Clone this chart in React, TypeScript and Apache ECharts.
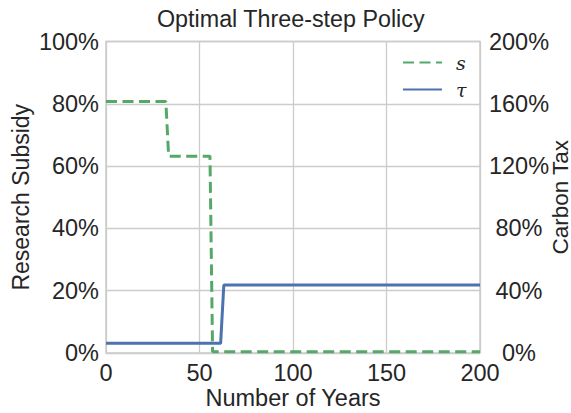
import React, { useEffect, useRef } from "react";
import * as echarts from "echarts";

const subsidyPoints: [number, number][] = [
  [0, 80.7], [32, 80.7], [33.5, 63.2], [55.6, 63.2], [57, 0.4], [200, 0.4],
];
const taxPoints: [number, number][] = [
  [0, 6.2], [61.3, 6.2], [63, 43.6], [200, 43.6],
];
const leftTicks = { min: 0, max: 100, interval: 20 };
const rightTicks = { min: 0, max: 200, interval: 40 };
const xTicks = { min: 0, max: 200, interval: 50 };

const FONT = "Liberation Sans, Arial, sans-serif";
const TXT = "#262626";

export default function App() {
  const ref = useRef<HTMLDivElement>(null);
  useEffect(() => {
    const chart = echarts.init(ref.current!, undefined, { renderer: "svg" });
    chart.setOption({
      animation: false,
      backgroundColor: "#ffffff",
      title: {
        text: "Optimal Three-step Policy",
        left: 152,
        top: 2,
        textStyle: { fontFamily: FONT, fontSize: 23.3, fontWeight: "normal", color: TXT },
      },
      legend: {
        orient: "vertical",
        left: 397,
        top: 48,
        itemWidth: 39,
        itemHeight: 16,
        itemGap: 8,
        itemStyle: { opacity: 0 },
        textStyle: {
          fontFamily: "DejaVu Serif, Liberation Serif, serif",
          fontStyle: "italic",
          fontSize: 19,
          color: TXT,
          lineHeight: 16,
          padding: [0, 0, 0, 9],
        },
        data: ["s", "τ"],
      },
      grid: {
        left: 106,
        right: 91,
        top: 41.5,
        bottom: 60,
        outerBoundsMode: "none",
        containLabel: false,
        show: true,
        borderColor: "#cccccc",
        borderWidth: 1.5,
        backgroundColor: "transparent",
      },
      xAxis: {
        type: "value",
        ...xTicks,
        name: "Number of Years",
        nameLocation: "middle",
        nameGap: 33,
        nameMoveOverlap: false,
        nameTextStyle: { fontFamily: FONT, fontSize: 23.5, color: TXT },
        axisLine: { show: false },
        axisTick: { show: false },
        axisLabel: { fontFamily: FONT, fontSize: 23.5, color: TXT, margin: 8 },
        splitLine: { lineStyle: { color: "#cccccc", width: 1.3 } },
      },
      yAxis: [
        {
          type: "value",
          ...leftTicks,
          position: "left",
          name: "Research Subsidy",
          nameLocation: "middle",
          nameGap: 74,
          nameMoveOverlap: false,
          nameTextStyle: { fontFamily: FONT, fontSize: 23, color: TXT },
          axisLine: { show: false },
          axisTick: { show: false },
          axisLabel: { fontFamily: FONT, fontSize: 23.5, color: TXT, margin: 7, formatter: "{value}%" },
          splitLine: { lineStyle: { color: "#cccccc", width: 1.3 } },
        },
        {
          type: "value",
          ...rightTicks,
          position: "right",
          name: "Carbon Tax",
          nameLocation: "middle",
          nameRotate: 90,
          nameGap: 69,
          nameMoveOverlap: false,
          nameTextStyle: { fontFamily: FONT, fontSize: 22.5, color: TXT },
          axisLine: { show: false },
          axisTick: { show: false },
          axisLabel: { fontFamily: FONT, fontSize: 23.5, color: TXT, margin: 39, align: "center", formatter: "{value}%" },
          splitLine: { show: false },
        },
      ],
      series: [
        {
          name: "s",
          type: "line",
          yAxisIndex: 0,
          data: subsidyPoints,
          symbol: "none",
          itemStyle: { color: "#55A868" },
          lineStyle: { color: "#55A868", width: 3, type: [11, 5.5] },
          z: 3,
        },
        {
          name: "τ",
          type: "line",
          yAxisIndex: 1,
          data: taxPoints,
          symbol: "none",
          itemStyle: { color: "#4C72B0" },
          lineStyle: { color: "#4C72B0", width: 3 },
          z: 2,
        },
      ],
    });
    return () => chart.dispose();
  }, []);
  return (
    <div
      ref={ref}
      style={{ position: "fixed", left: 0, top: 0, width: 571, height: 413 }}
    />
  );
}
